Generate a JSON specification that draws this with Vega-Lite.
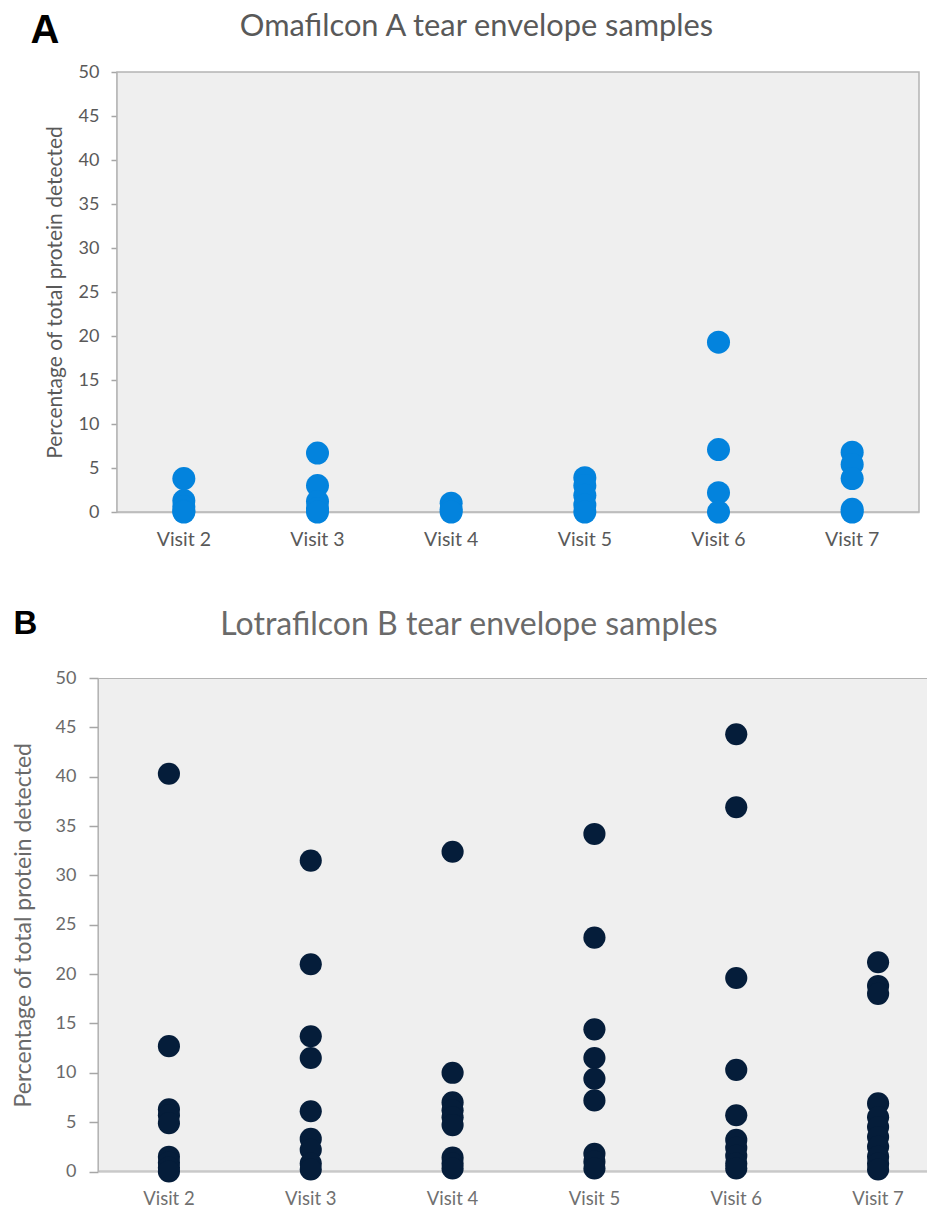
{
  "$schema": "https://vega.github.io/schema/vega-lite/v6.json",
  "background": "white",
  "padding": {"left": 12, "top": 10, "right": 0, "bottom": 0},
  "spacing": 58,
  "config": {
    "view": {"stroke": null},
    "font": "Lato",
    "axis": {"grid": false}
  },
  "datasets": {
    "a": [
      {"visit": "Visit 2", "pct": 3.8}, {"visit": "Visit 2", "pct": 1.3}, {"visit": "Visit 2", "pct": 0.6}, {"visit": "Visit 2", "pct": 0.1}, {"visit": "Visit 2", "pct": 0},
      {"visit": "Visit 3", "pct": 6.7}, {"visit": "Visit 3", "pct": 3.0}, {"visit": "Visit 3", "pct": 1.2}, {"visit": "Visit 3", "pct": 0.4}, {"visit": "Visit 3", "pct": 0},
      {"visit": "Visit 4", "pct": 1.0}, {"visit": "Visit 4", "pct": 0.3}, {"visit": "Visit 4", "pct": 0},
      {"visit": "Visit 5", "pct": 3.9}, {"visit": "Visit 5", "pct": 3.0}, {"visit": "Visit 5", "pct": 1.9}, {"visit": "Visit 5", "pct": 0.8}, {"visit": "Visit 5", "pct": 0},
      {"visit": "Visit 6", "pct": 19.3}, {"visit": "Visit 6", "pct": 7.1}, {"visit": "Visit 6", "pct": 2.2}, {"visit": "Visit 6", "pct": 0},
      {"visit": "Visit 7", "pct": 6.8}, {"visit": "Visit 7", "pct": 5.4}, {"visit": "Visit 7", "pct": 3.8}, {"visit": "Visit 7", "pct": 0.3}, {"visit": "Visit 7", "pct": 0}
    ],
    "b": [
      {"visit": "Visit 2", "pct": 40.3}, {"visit": "Visit 2", "pct": 12.7}, {"visit": "Visit 2", "pct": 6.3}, {"visit": "Visit 2", "pct": 5.7}, {"visit": "Visit 2", "pct": 4.9}, {"visit": "Visit 2", "pct": 1.5}, {"visit": "Visit 2", "pct": 0.9}, {"visit": "Visit 2", "pct": 0.4}, {"visit": "Visit 2", "pct": 0},
      {"visit": "Visit 3", "pct": 31.5}, {"visit": "Visit 3", "pct": 21.0}, {"visit": "Visit 3", "pct": 13.7}, {"visit": "Visit 3", "pct": 11.5}, {"visit": "Visit 3", "pct": 6.1}, {"visit": "Visit 3", "pct": 3.3}, {"visit": "Visit 3", "pct": 2.2}, {"visit": "Visit 3", "pct": 0.8}, {"visit": "Visit 3", "pct": 0.2},
      {"visit": "Visit 4", "pct": 32.4}, {"visit": "Visit 4", "pct": 10.0}, {"visit": "Visit 4", "pct": 7.0}, {"visit": "Visit 4", "pct": 6.2}, {"visit": "Visit 4", "pct": 5.5}, {"visit": "Visit 4", "pct": 4.7}, {"visit": "Visit 4", "pct": 1.4}, {"visit": "Visit 4", "pct": 0.8}, {"visit": "Visit 4", "pct": 0.3},
      {"visit": "Visit 5", "pct": 34.2}, {"visit": "Visit 5", "pct": 23.7}, {"visit": "Visit 5", "pct": 14.4}, {"visit": "Visit 5", "pct": 11.5}, {"visit": "Visit 5", "pct": 9.4}, {"visit": "Visit 5", "pct": 7.2}, {"visit": "Visit 5", "pct": 1.8}, {"visit": "Visit 5", "pct": 1.0}, {"visit": "Visit 5", "pct": 0.3},
      {"visit": "Visit 6", "pct": 44.3}, {"visit": "Visit 6", "pct": 36.9}, {"visit": "Visit 6", "pct": 19.6}, {"visit": "Visit 6", "pct": 10.3}, {"visit": "Visit 6", "pct": 5.7}, {"visit": "Visit 6", "pct": 3.2}, {"visit": "Visit 6", "pct": 2.4}, {"visit": "Visit 6", "pct": 1.6}, {"visit": "Visit 6", "pct": 0.8}, {"visit": "Visit 6", "pct": 0.3},
      {"visit": "Visit 7", "pct": 21.2}, {"visit": "Visit 7", "pct": 18.8}, {"visit": "Visit 7", "pct": 18.0}, {"visit": "Visit 7", "pct": 6.9}, {"visit": "Visit 7", "pct": 5.5}, {"visit": "Visit 7", "pct": 4.5}, {"visit": "Visit 7", "pct": 3.5}, {"visit": "Visit 7", "pct": 2.5}, {"visit": "Visit 7", "pct": 1.5}, {"visit": "Visit 7", "pct": 0.8}, {"visit": "Visit 7", "pct": 0.2}
    ]
  },
  "vconcat": [
    {
      "width": 821,
      "height": 440,
      "title": {
        "text": "Omafilcon A tear envelope samples",
        "anchor": "middle",
        "frame": "group",
        "font": "Lato",
        "fontSize": 30.8,
        "fontWeight": "normal",
        "color": "#595959",
        "dx": -32,
        "offset": -33
      },
      "layer": [
        {
          "data": {"values": [{}]},
          "mark": {"type": "rect", "fill": "#efefef", "stroke": "#b4b4b4", "strokeWidth": 1.5},
          "encoding": {
            "x": {
              "datum": "Visit 2", "type": "nominal", "bandPosition": 0,
              "scale": {"type": "band", "domain": ["Visit 2", "Visit 3", "Visit 4", "Visit 5", "Visit 6", "Visit 7"], "paddingInner": 0, "paddingOuter": 0, "range": [19, 821]},
              "axis": {
                "orient": "top", "title": "A", "labels": false, "ticks": false, "domain": false,
                "titleX": -68, "titleY": -30, "titleAlign": "left", "titleAnchor": "start", "titleBaseline": "alphabetic",
                "titleFont": "Liberation Sans", "titleFontSize": 40, "titleFontWeight": "bold", "titleColor": "#000000"
              }
            },
            "x2": {"datum": "Visit 7", "bandPosition": 1},
            "y": {"datum": 0, "type": "quantitative", "title": "Percentage of total protein detected", "scale": {"domain": [0, 50], "nice": false}},
            "y2": {"datum": 50}
          }
        },
        {
          "data": {"name": "a"},
          "mark": {"type": "circle", "size": 530, "opacity": 1, "color": "#0383dd"},
          "encoding": {
            "x": {
              "field": "visit", "type": "nominal",
              "scale": {"type": "band", "domain": ["Visit 2", "Visit 3", "Visit 4", "Visit 5", "Visit 6", "Visit 7"], "paddingInner": 0, "paddingOuter": 0, "range": [19, 821]},
              "axis": {
                "orient": "bottom", "title": null, "labelAngle": 0, "ticks": false, "tickSize": 0,
                "domainColor": "#d9d9d9", "domainWidth": 2, "labelPadding": 18,
                "labelFont": "Lato", "labelFontSize": 19.5, "labelColor": "#595959"
              }
            },
            "y": {
              "field": "pct", "type": "quantitative", "title": "Percentage of total protein detected",
              "scale": {"domain": [0, 50], "nice": false},
              "axis": {
                "orient": "left", "offset": -19, "values": [0, 5, 10, 15, 20, 25, 30, 35, 40, 45, 50],
                "tickSize": 6, "tickColor": "#a6a6a6", "tickWidth": 1.5, "domainColor": "#a6a6a6", "domainWidth": 2,
                "labelFont": "Lato", "labelFontSize": 18, "labelColor": "#595959", "labelPadding": 12,
                "titleFont": "Lato", "titleFontSize": 21, "titleFontWeight": "normal", "titleColor": "#595959", "titlePadding": 13
              }
            }
          }
        }
      ],
      "resolve": {"axis": {"x": "independent"}}
    },
    {
      "width": 830,
      "height": 493.5,
      "title": {
        "text": "Lotrafilcon B tear envelope samples",
        "anchor": "middle",
        "frame": "group",
        "font": "Lato",
        "fontSize": 32,
        "fontWeight": "normal",
        "color": "#6a6a6a",
        "dx": -44,
        "offset": -35
      },
      "layer": [
        {
          "data": {"values": [{}]},
          "mark": {"type": "rect", "fill": "#efefef", "stroke": "#b4b4b4", "strokeWidth": 2, "clip": true},
          "encoding": {
            "x": {
              "datum": "Visit 2", "type": "nominal", "bandPosition": 0,
              "scale": {"type": "band", "domain": ["Visit 2", "Visit 3", "Visit 4", "Visit 5", "Visit 6", "Visit 7"], "paddingInner": 0, "paddingOuter": 0, "range": [0, 851]},
              "axis": {
                "orient": "top", "title": "B", "labels": false, "ticks": false, "domain": false,
                "titleX": -85, "titleY": -45, "titleAlign": "left", "titleAnchor": "start", "titleBaseline": "alphabetic",
                "titleFont": "Liberation Sans", "titleFontSize": 33, "titleFontWeight": "bold", "titleColor": "#000000"
              }
            },
            "x2": {"datum": "Visit 7", "bandPosition": 1},
            "y": {"datum": 0, "type": "quantitative", "title": "Percentage of total protein detected", "scale": {"domain": [0, 50], "nice": false}},
            "y2": {"datum": 50}
          }
        },
        {
          "data": {"name": "b"},
          "mark": {"type": "circle", "size": 490, "opacity": 1, "color": "#051d3a"},
          "encoding": {
            "x": {
              "field": "visit", "type": "nominal",
              "scale": {"type": "band", "domain": ["Visit 2", "Visit 3", "Visit 4", "Visit 5", "Visit 6", "Visit 7"], "paddingInner": 0, "paddingOuter": 0, "range": [0, 851]},
              "axis": {
                "orient": "bottom", "title": null, "labelAngle": 0, "ticks": false, "tickSize": 0,
                "domainColor": "#d9d9d9", "domainWidth": 2, "labelPadding": 18,
                "labelFont": "Lato", "labelFontSize": 18.5, "labelColor": "#707070"
              }
            },
            "y": {
              "field": "pct", "type": "quantitative", "title": "Percentage of total protein detected",
              "scale": {"domain": [0, 50], "nice": false},
              "axis": {
                "orient": "left", "values": [0, 5, 10, 15, 20, 25, 30, 35, 40, 45, 50],
                "tickSize": 9, "tickColor": "#a6a6a6", "tickWidth": 1.5, "domainColor": "#a6a6a6", "domainWidth": 2,
                "labelFont": "Lato", "labelFontSize": 18, "labelColor": "#6a6a6a", "labelPadding": 13,
                "titleFont": "Lato", "titleFontSize": 23, "titleFontWeight": "normal", "titleColor": "#6a6a6a", "titlePadding": 20
              }
            }
          }
        }
      ],
      "resolve": {"axis": {"x": "independent"}}
    }
  ]
}
